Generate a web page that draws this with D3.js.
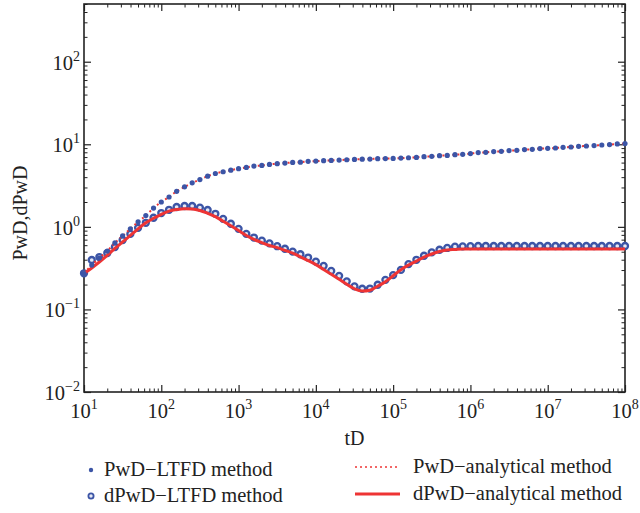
<!DOCTYPE html>
<html>
<head>
<meta charset="utf-8">
<script src="https://cdn.jsdelivr.net/npm/d3@7"></script>
<style>
  body { margin: 0; background: #fff; }
  svg text { font-family: "Liberation Serif", "DejaVu Serif", serif; fill: #222; }
</style>
</head>
<body>
<svg id="chart"></svg>
<script>
// dimensionless time grid (10 points per decade)
const tD = [
  1e1, 1.26e1, 1.58e1, 2e1, 2.51e1, 3.16e1, 3.98e1, 5.01e1, 6.31e1, 7.94e1,
  1e2, 1.26e2, 1.58e2, 2e2, 2.51e2, 3.16e2, 3.98e2, 5.01e2, 6.31e2, 7.94e2,
  1e3, 1.26e3, 1.58e3, 2e3, 2.51e3, 3.16e3, 3.98e3, 5.01e3, 6.31e3, 7.94e3,
  1e4, 1.26e4, 1.58e4, 2e4, 2.51e4, 3.16e4, 3.98e4, 5.01e4, 6.31e4, 7.94e4,
  1e5, 1.26e5, 1.58e5, 2e5, 2.51e5, 3.16e5, 3.98e5, 5.01e5, 6.31e5, 7.94e5,
  1e6, 1.26e6, 1.58e6, 2e6, 2.51e6, 3.16e6, 3.98e6, 5.01e6, 6.31e6, 7.94e6,
  1e7, 1.26e7, 1.58e7, 2e7, 2.51e7, 3.16e7, 3.98e7, 5.01e7, 6.31e7, 7.94e7,
  1e8
];

const pwdLTFD = [
  0.272, 0.344, 0.419, 0.509, 0.638, 0.776, 0.946, 1.15, 1.37, 1.69,
  2.00, 2.30, 2.69, 3.05, 3.41, 3.74, 4.11, 4.43, 4.65, 4.86,
  5.06, 5.25, 5.44, 5.54, 5.70, 5.82, 5.92, 6.03, 6.08, 6.21,
  6.26, 6.33, 6.38, 6.43, 6.50, 6.56, 6.60, 6.62, 6.70, 6.72,
  6.75, 6.81, 6.87, 6.94, 7.08, 7.14, 7.28, 7.34, 7.49, 7.55,
  7.71, 7.93, 7.99, 8.15, 8.22, 8.38, 8.45, 8.62, 8.69, 8.87,
  8.94, 9.02, 9.19, 9.27, 9.46, 9.53, 9.64, 9.80, 9.91, 10.09,
  10.2
];

const pwdAnalytical = [
  0.272, 0.344, 0.419, 0.509, 0.638, 0.776, 0.946, 1.15, 1.37, 1.69,
  2.00, 2.30, 2.69, 3.05, 3.41, 3.74, 4.11, 4.43, 4.65, 4.86,
  5.06, 5.25, 5.44, 5.54, 5.70, 5.82, 5.92, 6.03, 6.08, 6.21,
  6.26, 6.33, 6.38, 6.43, 6.50, 6.56, 6.60, 6.62, 6.70, 6.72,
  6.75, 6.81, 6.87, 6.94, 7.08, 7.14, 7.28, 7.34, 7.49, 7.55,
  7.71, 7.93, 7.99, 8.15, 8.22, 8.38, 8.45, 8.62, 8.69, 8.87,
  8.94, 9.02, 9.19, 9.27, 9.46, 9.53, 9.64, 9.80, 9.91, 10.09,
  10.2
];

const dpwdLTFD = [
  0.274, 0.397, 0.431, 0.482, 0.570, 0.693, 0.822, 0.973, 1.12, 1.29,
  1.47, 1.61, 1.74, 1.79, 1.79, 1.71, 1.60, 1.44, 1.25, 1.09,
  0.946, 0.822, 0.742, 0.681, 0.632, 0.583, 0.543, 0.502, 0.466, 0.425,
  0.379, 0.337, 0.293, 0.255, 0.219, 0.190, 0.178, 0.179, 0.199, 0.228,
  0.260, 0.301, 0.354, 0.399, 0.447, 0.491, 0.528, 0.555, 0.575, 0.580,
  0.584, 0.586, 0.586, 0.586, 0.586, 0.586, 0.586, 0.586, 0.586, 0.586,
  0.586, 0.586, 0.586, 0.586, 0.586, 0.586, 0.586, 0.586, 0.586, 0.586,
  0.586
];

const dpwdAnalytical = [
  0.272, 0.318, 0.375, 0.452, 0.547, 0.656, 0.787, 0.946, 1.12, 1.27,
  1.42, 1.55, 1.62, 1.66, 1.65, 1.58, 1.46, 1.33, 1.17, 1.03,
  0.902, 0.787, 0.704, 0.644, 0.595, 0.560, 0.519, 0.480, 0.433, 0.390,
  0.349, 0.305, 0.267, 0.232, 0.202, 0.178, 0.167, 0.171, 0.191, 0.216,
  0.256, 0.303, 0.344, 0.385, 0.431, 0.469, 0.502, 0.525, 0.532, 0.540,
  0.540, 0.540, 0.540, 0.540, 0.540, 0.540, 0.540, 0.540, 0.540, 0.540,
  0.540, 0.540, 0.540, 0.540, 0.540, 0.540, 0.540, 0.540, 0.540, 0.540,
  0.540
];

const xMajor = [1e1, 1e2, 1e3, 1e4, 1e5, 1e6, 1e7, 1e8];
const xExponents = ["1", "2", "3", "4", "5", "6", "7", "8"];
const yMajor = [1e-2, 1e-1, 1e0, 1e1, 1e2];
const yExponents = ["\u22122", "\u22121", "0", "1", "2"];

const legendItems = [
  "PwD\u2212LTFD method",
  "dPwD\u2212LTFD method",
  "PwD\u2212analytical method",
  "dPwD\u2212analytical method"
];

const width = 640;
const height = 513;
const plot = { left: 84, right: 625, top: 4, bottom: 392 };

const blue = "#3c55a6";
const red = "#ee3434";

const svg = d3.select("#chart")
    .attr("width", width)
    .attr("height", height);

const x = d3.scaleLog()
    .domain([1e1, 1e8])
    .range([plot.left, plot.right]);

const y = d3.scaleLog()
    .domain([1e-2, 500])
    .range([plot.bottom, plot.top]);

// minor tick values for the log axes
const minorOf = (lo, hi) => {
    const out = [];
    for (let e = lo; e < hi; e++) {
        for (let m = 2; m <= 9; m++) out.push(m * Math.pow(10, e));
    }
    return out;
};
const xMinor = minorOf(1, 8);
const yMinor = minorOf(-2, 3).filter(v => v <= 500);

// axes, ticks pointing inward on all four sides
const axisDefs = [
    { gen: d3.axisBottom, scale: x, major: xMajor, minor: xMinor, tr: `translate(0,${plot.bottom})` },
    { gen: d3.axisTop, scale: x, major: xMajor, minor: xMinor, tr: `translate(0,${plot.top})` },
    { gen: d3.axisLeft, scale: y, major: yMajor, minor: yMinor, tr: `translate(${plot.left},0)` },
    { gen: d3.axisRight, scale: y, major: yMajor, minor: yMinor, tr: `translate(${plot.right},0)` }
];

axisDefs.forEach(a => {
    svg.append("g")
        .attr("transform", a.tr)
        .call(a.gen(a.scale).tickValues(a.minor).tickSize(-3.5).tickFormat(""))
        .call(g => g.select(".domain").remove())
        .call(g => g.selectAll("line").attr("stroke", "#222").attr("stroke-width", 1));
    svg.append("g")
        .attr("transform", a.tr)
        .call(a.gen(a.scale).tickValues(a.major).tickSize(-7).tickFormat(""))
        .call(g => g.select(".domain").remove())
        .call(g => g.selectAll("line").attr("stroke", "#222").attr("stroke-width", 1.2));
});

// frame
svg.append("rect")
    .attr("x", plot.left)
    .attr("y", plot.top)
    .attr("width", plot.right - plot.left)
    .attr("height", plot.bottom - plot.top)
    .attr("fill", "none")
    .attr("stroke", "#222")
    .attr("stroke-width", 1.6);

// tick labels with superscript exponents
const xLab = svg.append("g").selectAll("text")
    .data(xMajor)
    .enter()
    .append("text")
    .attr("x", d => x(d))
    .attr("y", plot.bottom + 26)
    .attr("text-anchor", "middle")
    .attr("font-size", 20.5);
xLab.append("tspan").text("10");
xLab.append("tspan").attr("dy", -9).attr("font-size", 14).text((d, i) => xExponents[i]);

const yLab = svg.append("g").selectAll("text")
    .data(yMajor)
    .enter()
    .append("text")
    .attr("x", plot.left - 4)
    .attr("y", d => y(d) + 8)
    .attr("text-anchor", "end")
    .attr("font-size", 20.5);
yLab.append("tspan").text("10");
yLab.append("tspan").attr("dy", -9).attr("font-size", 14).text((d, i) => yExponents[i]);

// axis titles
svg.append("text")
    .attr("x", (plot.left + plot.right) / 2)
    .attr("y", 445)
    .attr("text-anchor", "middle")
    .attr("font-size", 20)
    .text("tD");

svg.append("text")
    .attr("transform", `translate(27,${(plot.top + plot.bottom) / 2 + 15}) rotate(-90)`)
    .attr("text-anchor", "middle")
    .attr("font-size", 20)
    .text("PwD,dPwD");

// curves
const plotArea = svg.append("g");

const line = series => d3.line()
    .x((d, i) => x(tD[i]))
    .y(d => y(d))
    .curve(d3.curveMonotoneX)(series);

// dPwD LTFD: open rings
plotArea.selectAll("circle.ring")
    .data(dpwdLTFD)
    .enter()
    .append("circle")
    .attr("class", "ring")
    .attr("cx", (d, i) => x(tD[i]))
    .attr("cy", d => y(d))
    .attr("r", 3)
    .attr("fill", "#e6e9f4")
    .attr("stroke", blue)
    .attr("stroke-width", 2.3);

// dPwD analytical: solid red
plotArea.append("path")
    .attr("d", line(dpwdAnalytical))
    .attr("fill", "none")
    .attr("stroke", red)
    .attr("stroke-width", 3);

// PwD analytical: dotted red
plotArea.append("path")
    .attr("d", line(pwdAnalytical))
    .attr("fill", "none")
    .attr("stroke", red)
    .attr("stroke-width", 2)
    .attr("stroke-dasharray", "2,3");

// PwD LTFD: small filled dots
plotArea.selectAll("circle.dot")
    .data(pwdLTFD)
    .enter()
    .append("circle")
    .attr("class", "dot")
    .attr("cx", (d, i) => x(tD[i]))
    .attr("cy", d => y(d))
    .attr("r", 2.6)
    .attr("fill", blue);

// legend
const legend = svg.append("g");

legend.append("circle").attr("cx", 91).attr("cy", 470).attr("r", 2.2).attr("fill", blue);
legend.append("circle").attr("cx", 91).attr("cy", 496).attr("r", 2.6)
    .attr("fill", "#e6e9f4").attr("stroke", blue).attr("stroke-width", 1.8);
legend.append("line").attr("x1", 355).attr("x2", 398).attr("y1", 467).attr("y2", 467)
    .attr("stroke", red).attr("stroke-width", 1.5).attr("stroke-dasharray", "2,3");
legend.append("line").attr("x1", 355).attr("x2", 400).attr("y1", 494).attr("y2", 494)
    .attr("stroke", red).attr("stroke-width", 3);

const legendPos = [[104, 476], [104, 502], [413, 473], [413, 500]];
legend.selectAll("text")
    .data(legendItems)
    .enter()
    .append("text")
    .attr("x", (d, i) => legendPos[i][0])
    .attr("y", (d, i) => legendPos[i][1])
    .attr("font-size", 20.5)
    .text(d => d);
</script>
</body>
</html>
